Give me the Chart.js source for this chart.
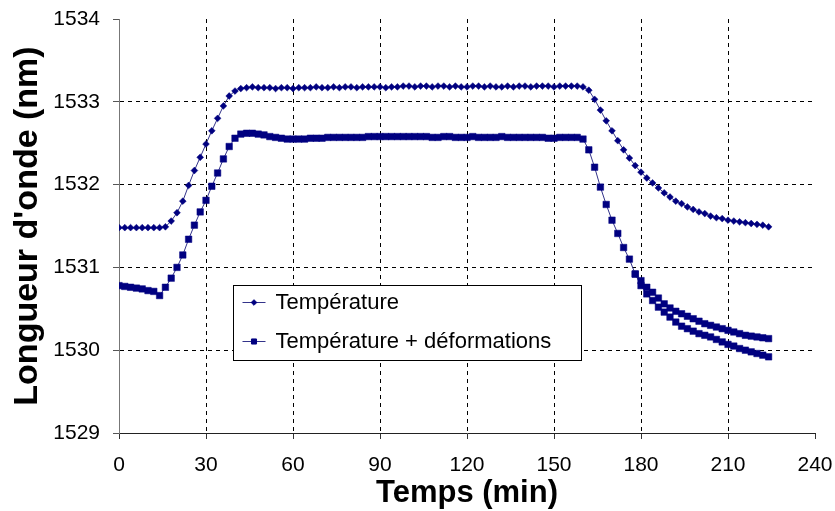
<!DOCTYPE html>
<html><head><meta charset="utf-8">
<script src="https://cdn.jsdelivr.net/npm/chart.js@4"></script>
<style>html,body{margin:0;padding:0;background:#fff}canvas{display:block}</style>
</head><body>
<canvas id="c" width="835" height="511"></canvas>
<script>
const times = [0,2,4,6,8,10,12,14,16,18,20,22,24,26,28,30,32,34,36,38,40,42,44,46,48,50,52,54,56,58,60,62,64,66,68,70,72,74,76,78,80,82,84,86,88,90,92,94,96,98,100,102,104,106,108,110,112,114,116,118,120,122,124,126,128,130,132,134,136,138,140,142,144,146,148,150,152,154,156,158,160,162,164,166,168,170,172,174,176,178,180,182,184,186,188,190,192,194,196,198,200,202,204,206,208,210,212,214,216,218,220,222,224];
const temperature = [
1531.48,1531.48,1531.48,1531.48,1531.48,1531.48,1531.48,1531.48,1531.49,1531.56,
1531.66,1531.80,1531.99,1532.17,1532.33,1532.49,1532.65,1532.80,1532.95,1533.07,
1533.13,1533.16,1533.17,1533.18,1533.17,1533.17,1533.17,1533.16,1533.17,1533.17,
1533.16,1533.17,1533.17,1533.17,1533.18,1533.17,1533.17,1533.18,1533.17,1533.18,
1533.18,1533.17,1533.18,1533.18,1533.18,1533.18,1533.17,1533.18,1533.18,1533.19,
1533.19,1533.18,1533.19,1533.19,1533.18,1533.19,1533.19,1533.18,1533.19,1533.18,
1533.18,1533.19,1533.19,1533.18,1533.19,1533.18,1533.18,1533.19,1533.18,1533.19,
1533.19,1533.18,1533.19,1533.19,1533.19,1533.18,1533.19,1533.19,1533.19,1533.19,
1533.18,1533.14,1533.03,1532.90,1532.77,1532.65,1532.53,1532.42,1532.32,1532.23,
1532.15,1532.08,1532.02,1531.96,1531.90,1531.85,1531.80,1531.77,1531.73,1531.70,
1531.67,1531.65,1531.62,1531.60,1531.59,1531.57,1531.56,1531.55,1531.54,1531.53,
1531.52,1531.51,1531.49];
const tempDeform = [
1530.78,1530.77,1530.76,1530.75,1530.74,1530.72,1530.71,1530.66,1530.76,1530.87,
1531.00,1531.15,1531.34,1531.51,1531.67,1531.81,1531.98,1532.14,1532.31,1532.46,
1532.56,1532.61,1532.62,1532.62,1532.61,1532.60,1532.58,1532.57,1532.56,1532.55,
1532.55,1532.55,1532.55,1532.56,1532.56,1532.56,1532.57,1532.57,1532.57,1532.57,
1532.57,1532.57,1532.57,1532.58,1532.58,1532.58,1532.58,1532.58,1532.58,1532.58,
1532.58,1532.58,1532.58,1532.58,1532.57,1532.57,1532.58,1532.58,1532.57,1532.57,
1532.57,1532.58,1532.57,1532.57,1532.57,1532.57,1532.58,1532.57,1532.57,1532.57,
1532.57,1532.57,1532.57,1532.57,1532.56,1532.56,1532.57,1532.57,1532.57,1532.57,
1532.55,1532.42,1532.21,1531.97,1531.76,1531.57,1531.41,1531.24,1531.10,1530.92,
1530.84,1530.76,1530.70,1530.63,1530.56,1530.51,1530.47,1530.44,1530.41,1530.38,
1530.35,1530.32,1530.30,1530.28,1530.26,1530.24,1530.22,1530.20,1530.18,1530.17,
1530.16,1530.15,1530.14];
const lowerTimes = [178,180,182,184,186,188,190,192,194,196,198,200,202,204,206,208,210,212,214,216,218,220,222,224];
const tempDeformLower = [1530.92,1530.78,1530.68,1530.60,1530.52,1530.46,1530.40,1530.34,1530.29,1530.26,1530.23,1530.20,1530.18,1530.16,1530.13,1530.10,1530.07,1530.05,1530.02,1530.00,1529.98,1529.96,1529.94,1529.92];
const seriesNames = ['Température', 'Température + déformations'];
const xTickLabels = ['0','30','60','90','120','150','180','210','240'];
const yTickLabels = ['1529','1530','1531','1532','1533','1534'];
const xTitle = 'Temps (min)';
const yTitle = "Longueur d'onde (nm)";

const NAVY = '#000080';
const LINE = '#33338a';
const FONT = "'Liberation Sans', Arial, sans-serif";

function pts(xs, ys){ return xs.map((x,i)=>({x:x, y:ys[i]})); }

const legendPlugin = {
  id: 'boxLegend',
  afterDatasetsDraw(chart){
    const ctx = chart.ctx, a = chart.chartArea;
    const bx = Math.round(a.left + 114) + 0.5, by = Math.round(a.top + 266) + 0.5, bw = 348, bh = 75;
    ctx.save();
    ctx.fillStyle = '#fff';
    ctx.fillRect(bx, by, bw, bh);
    ctx.strokeStyle = '#000'; ctx.lineWidth = 1;
    ctx.strokeRect(bx, by, bw, bh);
    const rows = [{ds:0, y: by + 17}, {ds:1, y: by + 56}];
    rows.forEach(r => {
      const d = chart.data.datasets[r.ds];
      ctx.strokeStyle = d.borderColor; ctx.lineWidth = 1;
      ctx.beginPath(); ctx.moveTo(bx + 9, r.y); ctx.lineTo(bx + 32, r.y); ctx.stroke();
      ctx.fillStyle = d.pointBackgroundColor; ctx.strokeStyle = d.pointBorderColor;
      Chart.helpers.drawPoint(ctx, {pointStyle: d.pointStyle, rotation: 0, radius: d.pointStyle === 'rect' ? 3.6 : 2.8, borderWidth: 1}, bx + 20.5, r.y);
      ctx.fillStyle = '#000';
      ctx.font = '22px ' + FONT;
      ctx.textBaseline = 'middle'; ctx.textAlign = 'left';
      ctx.fillText(seriesNames[r.ds], bx + 42, r.y);
    });
    ctx.restore();
  }
};

new Chart(document.getElementById('c'), {
  type: 'line',
  data: {
    datasets: [
      { label: seriesNames[0], data: pts(times, temperature), borderColor: LINE, borderWidth: 1,
        pointStyle: 'rectRot', pointRadius: 3.4, pointBackgroundColor: NAVY, pointBorderColor: NAVY, pointBorderWidth: 0.5 },
      { label: seriesNames[1], data: pts(times, tempDeform), borderColor: LINE, borderWidth: 1,
        pointStyle: 'rect', pointRadius: 4.6, pointBackgroundColor: NAVY, pointBorderColor: NAVY, pointBorderWidth: 0.5 },
      { label: seriesNames[1] + ' (2)', data: pts(lowerTimes, tempDeformLower), borderColor: LINE, borderWidth: 1,
        pointStyle: 'rect', pointRadius: 4.6, pointBackgroundColor: NAVY, pointBorderColor: NAVY, pointBorderWidth: 0.5 }
    ]
  },
  options: {
    responsive: false, animation: false,
    layout: { padding: { left: 0, right: 20, top: 19, bottom: 0 } },
    plugins: { legend: { display: false }, tooltip: { enabled: false } },
    scales: {
      x: {
        type: 'linear', min: 0, max: 240,
        afterFit(s){ s.height = 78; s.paddingLeft = 0; s.paddingRight = 0; },
        ticks: { stepSize: 30, color: '#000', padding: 14, font: { family: FONT, size: 21 },
          callback: (v) => xTickLabels[Math.round(v / 30)] },
        grid: { color: (c) => (c.tick && (c.tick.value === 0 || c.tick.value === 240)) ? 'rgba(0,0,0,0)' : '#000',
          lineWidth: 1, tickColor: '#333', tickLength: 6, tickWidth: 1 },
        border: { display: true, color: '#222', width: 1, dash: [4, 4] },
        title: { display: true, text: xTitle, color: '#000', padding: { top: 0, bottom: 2 },
          font: { family: FONT, size: 31, weight: 'bold', lineHeight: 1 } }
      },
      y: {
        type: 'linear', min: 1529, max: 1534,
        afterFit(s){ s.width = 119; s.paddingTop = 0; s.paddingBottom = 0; },
        ticks: { stepSize: 1, color: '#000', padding: 13, font: { family: FONT, size: 21 },
          callback: (v) => yTickLabels[Math.round(v - 1529)] },
        grid: { color: (c) => (c.tick && (c.tick.value === 1529 || c.tick.value === 1534)) ? 'rgba(0,0,0,0)' : '#000',
          lineWidth: 1, tickColor: '#555', tickLength: 6, tickWidth: 1 },
        border: { display: true, color: '#777', width: 1, dash: [4, 4] },
        title: { display: true, text: yTitle, color: '#000', padding: { top: 11, bottom: 0 },
          font: { family: FONT, size: 34, weight: 'bold', lineHeight: 1 } }
      }
    }
  },
  plugins: [legendPlugin]
});
</script>
</body></html>
